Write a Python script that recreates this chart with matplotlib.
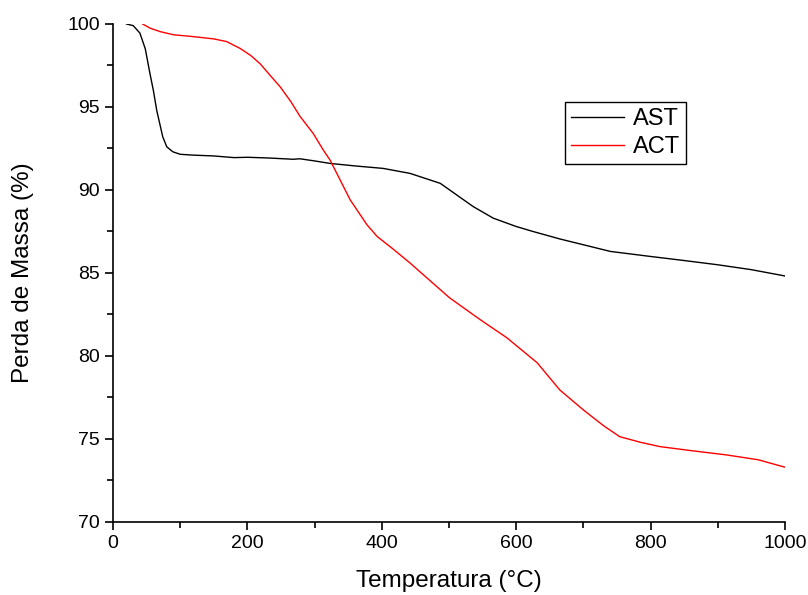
import matplotlib
matplotlib.use("Agg")
from matplotlib import pyplot as plt
from matplotlib.ticker import MultipleLocator

# AST curve (temperature in C, mass in %)
ast_temp = [20, 30, 40, 48, 55, 60, 65, 74, 80, 89, 100, 119, 150, 180, 200, 230,
            268, 278, 300, 323, 360, 402, 442, 487, 501, 536, 566, 600, 625, 665,
            700, 740, 799, 850, 899, 950, 1000]
ast_mass = [100.0, 99.9, 99.45, 98.5, 97.0, 96.0, 94.8, 93.2, 92.6, 92.3, 92.15,
            92.1, 92.05, 91.95, 91.97, 91.93, 91.85, 91.88, 91.75, 91.6, 91.45,
            91.3, 91.0, 90.4, 90.0, 89.0, 88.3, 87.8, 87.5, 87.05, 86.7, 86.3,
            86.0, 85.75, 85.5, 85.2, 84.82]

# ACT curve
act_temp = [44, 55, 70, 90, 119, 150, 169, 189, 205, 219, 235, 249, 265, 278, 298,
            313, 323, 338, 353, 363, 378, 393, 415, 442, 470, 501, 546, 586, 631,
            665, 700, 730, 754, 785, 814, 860, 913, 960, 1000]
act_mass = [100.0, 99.75, 99.54, 99.35, 99.24, 99.1, 98.94, 98.53, 98.1, 97.6, 96.85,
            96.2, 95.3, 94.45, 93.4, 92.4, 91.8, 90.6, 89.4, 88.8, 87.9, 87.2, 86.5,
            85.6, 84.6, 83.5, 82.2, 81.1, 79.6, 77.95, 76.75, 75.8, 75.14, 74.8,
            74.54, 74.3, 74.04, 73.75, 73.3]

plt.rcParams["font.family"] = ["Liberation Sans", "DejaVu Sans"]

fig = plt.figure(figsize=(8.08, 5.95), dpi=100)
ax = fig.add_axes([0.1399, 0.1227, 0.8316, 0.837])

ax.plot(ast_temp, ast_mass, color="black", lw=1.0, label="AST")
ax.plot(act_temp, act_mass, color="red", lw=1.0, label="ACT")

ax.set_xlim(0, 1000)
ax.set_ylim(70, 100)
ax.xaxis.set_major_locator(MultipleLocator(200))
ax.xaxis.set_minor_locator(MultipleLocator(100))
ax.yaxis.set_major_locator(MultipleLocator(5))
ax.yaxis.set_minor_locator(MultipleLocator(2.5))
ax.tick_params(which="major", direction="out", length=6, width=1.2, labelsize=14)
ax.tick_params(which="minor", direction="out", length=4, width=1.2)

for side in ["top", "right"]:
    ax.spines[side].set_visible(False)
for side in ["left", "bottom"]:
    ax.spines[side].set_linewidth(1.2)

ax.set_xlabel("Temperatura (°C)", fontsize=17.5, labelpad=13)
ax.set_ylabel("Perda de Massa (%)", fontsize=17.5, labelpad=24)

leg = ax.legend(loc="upper left", bbox_to_anchor=(0.673, 0.843), borderaxespad=0,
                fancybox=False, edgecolor="black", framealpha=1, fontsize=17,
                handlelength=2.25, handletextpad=0.35, labelspacing=0.25,
                borderpad=0.25)
leg.get_frame().set_linewidth(1.0)

fig.savefig("out.png", dpi=100)
